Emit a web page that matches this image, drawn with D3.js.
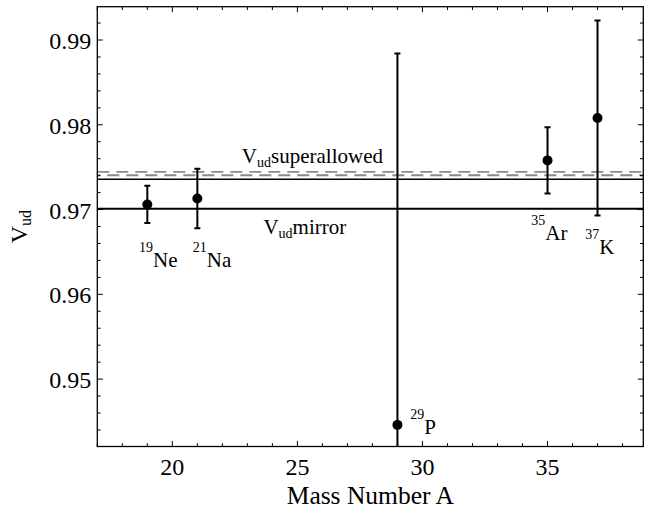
<!DOCTYPE html>
<html>
<head>
<meta charset="utf-8">
<script src="https://cdn.jsdelivr.net/npm/d3@7"></script>
<style>
  body { margin: 0; background: #fff; }
</style>
</head>
<body>
<svg id="chart" width="645" height="512"></svg>
<script>
// data
const massNumber = [19, 21, 29, 35, 37]
const massLabel = ['19', '21', '29', '35', '37']
const element = ['Ne', 'Na', 'P', 'Ar', 'K']
const vud = [0.9706, 0.9713, 0.9446, 0.9758, 0.9808]
const vudErr = [0.0022, 0.0035, 0.0438, 0.0039, 0.0115]
// where each isotope name sits, in data units
const labelA = [18.67, 20.82, 29.51, 34.35, 36.51]
const labelV = [0.96323, 0.96323, 0.94358, 0.96638, 0.96481]

const mirrorVud = 0.9701
const superallowedVud = 0.97425
const superallowedErr = 0.0002
const lowerLine = 0.97357

const xTicks = [20, 25, 30, 35]
const yTicks = [0.95, 0.96, 0.97, 0.98, 0.99]

const serif = "'Liberation Serif', 'Times New Roman', Times, serif"
const svg = d3.select('#chart').attr('font-family', serif)
const pLeft = 97.3, pRight = 643.3, pTop = 6.7, pBottom = 446.5

const x = d3.scaleLinear().domain([17, 38.83]).range([pLeft, pRight])
const y = d3.scaleLinear().domain([0.94205, 0.99393]).range([pBottom, pTop])

svg.append('clipPath').attr('id', 'plot')
  .append('rect')
  .attr('x', pLeft).attr('y', pTop)
  .attr('width', pRight - pLeft).attr('height', pBottom - pTop)

const plot = svg.append('g').attr('clip-path', 'url(#plot)')

// superallowed band (dashed grey) and reference lines
plot.selectAll('line.band')
  .data([superallowedVud + superallowedErr, superallowedVud - superallowedErr])
  .enter()
  .append('line')
  .attr('class', 'band')
  .attr('x1', pLeft).attr('x2', pRight)
  .attr('y1', d => y(d)).attr('y2', d => y(d))
  .attr('stroke', '#8a8a8a')
  .attr('stroke-width', 1.8)
  .attr('stroke-dasharray', '12,7')
  .attr('stroke-dashoffset', (d, i) => i === 0 ? 0 : 9)

plot.append('line')
  .attr('x1', pLeft).attr('x2', pRight)
  .attr('y1', y(lowerLine)).attr('y2', y(lowerLine))
  .attr('stroke', '#000').attr('stroke-width', 1.5)

plot.append('line')
  .attr('x1', pLeft).attr('x2', pRight)
  .attr('y1', y(mirrorVud)).attr('y2', y(mirrorVud))
  .attr('stroke', '#000').attr('stroke-width', 2)

// error bars and points
const pts = plot.selectAll('g.pt')
  .data(massNumber.map((a, i) => ({ a, v: vud[i], e: vudErr[i] })))
  .enter()
  .append('g')
  .attr('class', 'pt')

pts.append('line')
  .attr('x1', d => x(d.a)).attr('x2', d => x(d.a))
  .attr('y1', d => y(d.v - d.e)).attr('y2', d => y(d.v + d.e))
  .attr('stroke', '#000').attr('stroke-width', 2)

pts.selectAll('line.cap')
  .data(d => [{ a: d.a, v: d.v - d.e }, { a: d.a, v: d.v + d.e }])
  .enter()
  .append('line')
  .attr('class', 'cap')
  .attr('x1', d => x(d.a) - 3).attr('x2', d => x(d.a) + 3)
  .attr('y1', d => y(d.v)).attr('y2', d => y(d.v))
  .attr('stroke', '#000').attr('stroke-width', 2)

pts.append('circle')
  .attr('cx', d => x(d.a)).attr('cy', d => y(d.v))
  .attr('r', 5)
  .attr('fill', '#000')

// frame with inward ticks on all four sides
svg.append('rect')
  .attr('x', pLeft).attr('y', pTop)
  .attr('width', pRight - pLeft).attr('height', pBottom - pTop)
  .attr('fill', 'none').attr('stroke', '#000').attr('stroke-width', 1.3)

const xMinor = d3.range(17, 39, 1)
const yMinor = d3.range(0.944, 0.9935, 0.002)

const xTickLen = v => (xTicks.includes(v) ? 5.5 : 3.3)
const yTickLen = v => (yTicks.some(t => Math.abs(t - v) < 1e-6) ? 5.5 : 3.3)

svg.selectAll('line.xt')
  .data(xMinor)
  .enter()
  .append('line')
  .attr('x1', d => x(d)).attr('x2', d => x(d))
  .attr('y1', pBottom).attr('y2', d => pBottom - xTickLen(d))
  .attr('stroke', '#000').attr('stroke-width', 1)

svg.selectAll('line.xtt')
  .data(xMinor)
  .enter()
  .append('line')
  .attr('x1', d => x(d)).attr('x2', d => x(d))
  .attr('y1', pTop).attr('y2', d => pTop + xTickLen(d))
  .attr('stroke', '#000').attr('stroke-width', 1)

svg.selectAll('line.yt')
  .data(yMinor)
  .enter()
  .append('line')
  .attr('x1', pLeft).attr('x2', d => pLeft + yTickLen(d))
  .attr('y1', d => y(d)).attr('y2', d => y(d))
  .attr('stroke', '#000').attr('stroke-width', 1)

svg.selectAll('line.ytr')
  .data(yMinor)
  .enter()
  .append('line')
  .attr('x1', pRight).attr('x2', d => pRight - yTickLen(d))
  .attr('y1', d => y(d)).attr('y2', d => y(d))
  .attr('stroke', '#000').attr('stroke-width', 1)

svg.selectAll('text.xl')
  .data(xTicks)
  .enter()
  .append('text')
  .attr('x', d => x(d)).attr('y', pBottom + 28)
  .attr('text-anchor', 'middle')
  .attr('font-size', 24)
  .text(d => d)

svg.selectAll('text.yl')
  .data(yTicks)
  .enter()
  .append('text')
  .attr('x', pLeft - 6).attr('y', d => y(d) + 9)
  .attr('text-anchor', 'end')
  .attr('font-size', 24)
  .text(d => d3.format('.2f')(d))

// axis titles
svg.append('text')
  .attr('x', (pLeft + pRight) / 2).attr('y', 504)
  .attr('text-anchor', 'middle')
  .attr('font-size', 25.5)
  .text('Mass Number A')

const yt = svg.append('text')
  .attr('transform', 'translate(27,' + ((pTop + pBottom) / 2) + ') rotate(-90)')
  .attr('text-anchor', 'middle')
  .attr('font-size', 24)
yt.append('tspan').text('V')
yt.append('tspan').attr('dy', 4).attr('font-size', 16).text('ud')

// isotope names
const lab = svg.selectAll('text.iso')
  .data(element.map((el, i) => ({ el, m: massLabel[i], a: labelA[i], v: labelV[i] })))
  .enter()
  .append('text')
  .attr('class', 'iso')
  .attr('x', d => x(d.a)).attr('y', d => y(d.v) - 15)

lab.append('tspan').attr('font-size', 14).text(d => d.m)
lab.append('tspan').attr('dy', 15).attr('font-size', 21).text(d => d.el)

// reference line names
const sup = svg.append('text')
  .attr('x', x(22.78)).attr('y', y(0.97554))
  .attr('font-size', 21)
sup.append('tspan').text('V')
sup.append('tspan').attr('dy', 4).attr('font-size', 14).text('ud')
sup.append('tspan').attr('dy', -4).text('superallowed')

const mir = svg.append('text')
  .attr('x', x(23.64)).attr('y', y(0.96709))
  .attr('font-size', 21)
mir.append('tspan').text('V')
mir.append('tspan').attr('dy', 4).attr('font-size', 14).text('ud')
mir.append('tspan').attr('dy', -4).text('mirror')
</script>
</body>
</html>
